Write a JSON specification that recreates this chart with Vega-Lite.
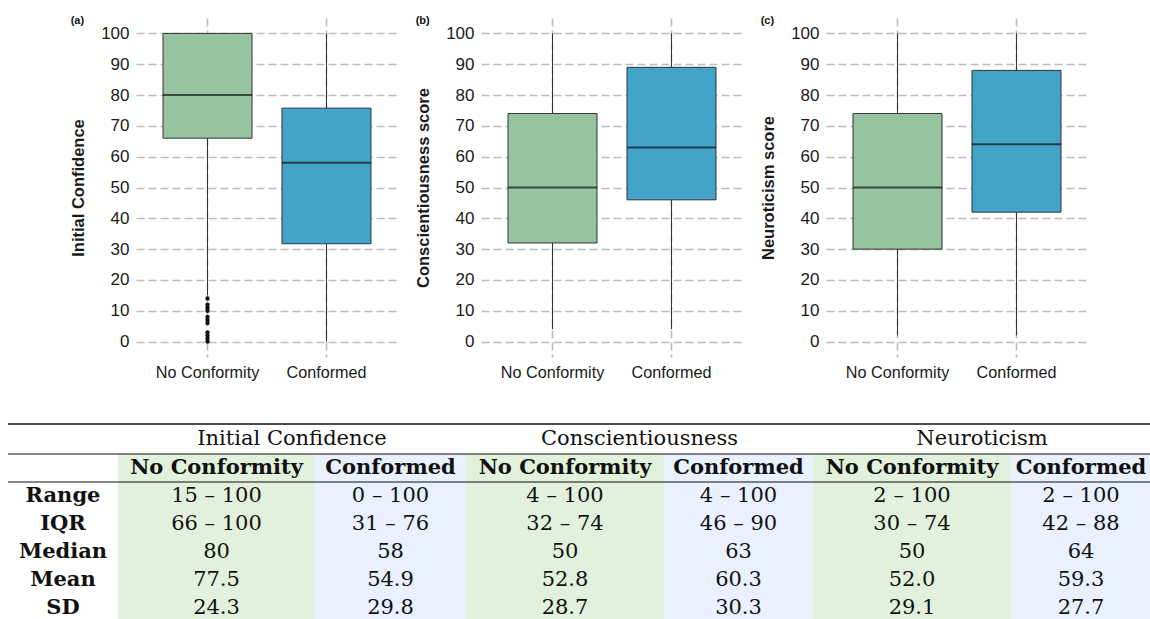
{
  "$schema": "https://vega.github.io/schema/vega-lite/v6.json",
  "background": "white",
  "padding": {"left": 7, "right": 0, "top": 15, "bottom": 0},
  "datasets": {
    "boxes": [
      {"panel": "a", "group": "No Conformity", "lower": 15, "q1": 66, "median": 80, "q3": 100, "upper": 100},
      {"panel": "a", "group": "Conformed", "lower": 0, "q1": 31.75, "median": 58, "q3": 75.75, "upper": 100},
      {"panel": "b", "group": "No Conformity", "lower": 4, "q1": 32, "median": 50, "q3": 74, "upper": 100},
      {"panel": "b", "group": "Conformed", "lower": 4, "q1": 46, "median": 63, "q3": 89, "upper": 100},
      {"panel": "c", "group": "No Conformity", "lower": 2, "q1": 30, "median": 50, "q3": 74, "upper": 100},
      {"panel": "c", "group": "Conformed", "lower": 2, "q1": 42, "median": 64, "q3": 88, "upper": 100}
    ],
    "outliers": [
      {"panel": "a", "group": "No Conformity", "value": 0},
      {"panel": "a", "group": "No Conformity", "value": 1},
      {"panel": "a", "group": "No Conformity", "value": 2},
      {"panel": "a", "group": "No Conformity", "value": 3},
      {"panel": "a", "group": "No Conformity", "value": 6},
      {"panel": "a", "group": "No Conformity", "value": 7},
      {"panel": "a", "group": "No Conformity", "value": 8},
      {"panel": "a", "group": "No Conformity", "value": 10},
      {"panel": "a", "group": "No Conformity", "value": 11},
      {"panel": "a", "group": "No Conformity", "value": 12},
      {"panel": "a", "group": "No Conformity", "value": 14}
    ],
    "headers": [
      {"measure": "Initial Confidence"},
      {"measure": "Conscientiousness"},
      {"measure": "Neuroticism"}
    ],
    "stats": [
      {"stat": "Range"}, {"stat": "IQR"}, {"stat": "Median"}, {"stat": "Mean"}, {"stat": "SD"}
    ],
    "table": [
      {"measure": "Initial Confidence", "group": "No Conformity", "stat": "sub", "text": "No Conformity"},
      {"measure": "Initial Confidence", "group": "No Conformity", "stat": "Range", "text": "15 – 100"},
      {"measure": "Initial Confidence", "group": "No Conformity", "stat": "IQR", "text": "66 – 100"},
      {"measure": "Initial Confidence", "group": "No Conformity", "stat": "Median", "text": "80"},
      {"measure": "Initial Confidence", "group": "No Conformity", "stat": "Mean", "text": "77.5"},
      {"measure": "Initial Confidence", "group": "No Conformity", "stat": "SD", "text": "24.3"},
      {"measure": "Initial Confidence", "group": "Conformed", "stat": "sub", "text": "Conformed"},
      {"measure": "Initial Confidence", "group": "Conformed", "stat": "Range", "text": "0 – 100"},
      {"measure": "Initial Confidence", "group": "Conformed", "stat": "IQR", "text": "31 – 76"},
      {"measure": "Initial Confidence", "group": "Conformed", "stat": "Median", "text": "58"},
      {"measure": "Initial Confidence", "group": "Conformed", "stat": "Mean", "text": "54.9"},
      {"measure": "Initial Confidence", "group": "Conformed", "stat": "SD", "text": "29.8"},
      {"measure": "Conscientiousness", "group": "No Conformity", "stat": "sub", "text": "No Conformity"},
      {"measure": "Conscientiousness", "group": "No Conformity", "stat": "Range", "text": "4 – 100"},
      {"measure": "Conscientiousness", "group": "No Conformity", "stat": "IQR", "text": "32 – 74"},
      {"measure": "Conscientiousness", "group": "No Conformity", "stat": "Median", "text": "50"},
      {"measure": "Conscientiousness", "group": "No Conformity", "stat": "Mean", "text": "52.8"},
      {"measure": "Conscientiousness", "group": "No Conformity", "stat": "SD", "text": "28.7"},
      {"measure": "Conscientiousness", "group": "Conformed", "stat": "sub", "text": "Conformed"},
      {"measure": "Conscientiousness", "group": "Conformed", "stat": "Range", "text": "4 – 100"},
      {"measure": "Conscientiousness", "group": "Conformed", "stat": "IQR", "text": "46 – 90"},
      {"measure": "Conscientiousness", "group": "Conformed", "stat": "Median", "text": "63"},
      {"measure": "Conscientiousness", "group": "Conformed", "stat": "Mean", "text": "60.3"},
      {"measure": "Conscientiousness", "group": "Conformed", "stat": "SD", "text": "30.3"},
      {"measure": "Neuroticism", "group": "No Conformity", "stat": "sub", "text": "No Conformity"},
      {"measure": "Neuroticism", "group": "No Conformity", "stat": "Range", "text": "2 – 100"},
      {"measure": "Neuroticism", "group": "No Conformity", "stat": "IQR", "text": "30 – 74"},
      {"measure": "Neuroticism", "group": "No Conformity", "stat": "Median", "text": "50"},
      {"measure": "Neuroticism", "group": "No Conformity", "stat": "Mean", "text": "52.0"},
      {"measure": "Neuroticism", "group": "No Conformity", "stat": "SD", "text": "29.1"},
      {"measure": "Neuroticism", "group": "Conformed", "stat": "sub", "text": "Conformed"},
      {"measure": "Neuroticism", "group": "Conformed", "stat": "Range", "text": "2 – 100"},
      {"measure": "Neuroticism", "group": "Conformed", "stat": "IQR", "text": "42 – 88"},
      {"measure": "Neuroticism", "group": "Conformed", "stat": "Median", "text": "64"},
      {"measure": "Neuroticism", "group": "Conformed", "stat": "Mean", "text": "59.3"},
      {"measure": "Neuroticism", "group": "Conformed", "stat": "SD", "text": "27.7"}
    ]
  },
  "config": {
    "view": {"stroke": null},
    "axis": {"domain": false, "ticks": false, "labelFont": "Liberation Sans", "titleFont": "Liberation Sans", "labelColor": "#1a1a1a", "titleColor": "#1a1a1a", "gridColor": "#BDBDBD", "gridDash": [8, 4], "gridWidth": 1.6},
    "axisX": {"labelAngle": 0, "labelFontSize": 16.2, "labelPadding": 7, "grid": true},
    "axisY": {"labelFontSize": 17, "labelPadding": 7, "titleFontSize": 16.5, "titleFontWeight": "bold", "titlePadding": 14},
    "title": {"font": "Liberation Sans", "fontSize": 11, "fontWeight": "bold", "anchor": "start", "frame": "bounds", "offset": -8, "color": "#111111"}
  },
  "spacing": 42,
  "vconcat": [
    {
      "hconcat": [
        {
          "width": 45, "height": 339,
          "view": {"fill": "white", "stroke": null},
          "data": {"values": [{}]},
          "mark": {"type": "text", "text": ""},
          "encoding": {}
        },
        {
          "width": 262, "height": 339,
          "title": "(a)",
          "data": {"name": "boxes"},
          "transform": [{"filter": "datum.panel === 'a'"}],
          "encoding": {"x": {"field": "group", "type": "nominal", "title": null, "axis": {"grid": true}, "scale": {"domain": ["No Conformity", "Conformed"], "paddingInner": 0.252, "paddingOuter": 0.227}}},
          "layer": [
            {"mark": {"type": "rule", "color": "#333333", "strokeWidth": 1}, "encoding": {"y": {"field": "lower", "type": "quantitative", "title": "Initial Confidence", "scale": {"domain": [-5, 105], "nice": false, "zero": false}, "axis": {"values": [0, 10, 20, 30, 40, 50, 60, 70, 80, 90, 100]}}, "y2": {"field": "upper"}}},
            {"mark": {"type": "bar", "stroke": "#333333", "strokeWidth": 1}, "encoding": {"y": {"field": "q1", "type": "quantitative", "title": "Initial Confidence", "scale": {"domain": [-5, 105], "nice": false, "zero": false}, "axis": {"values": [0, 10, 20, 30, 40, 50, 60, 70, 80, 90, 100]}}, "y2": {"field": "q3"}, "fill": {"field": "group", "type": "nominal", "scale": {"domain": ["No Conformity", "Conformed"], "range": ["#97C4A0", "#43A4C9"]}, "legend": null}}},
            {"mark": {"type": "tick", "color": "#111111", "thickness": 2, "size": 89}, "encoding": {"y": {"field": "median", "type": "quantitative", "title": "Initial Confidence", "scale": {"domain": [-5, 105], "nice": false, "zero": false}, "axis": {"values": [0, 10, 20, 30, 40, 50, 60, 70, 80, 90, 100]}}}},
            {"data": {"name": "outliers"}, "transform": [{"filter": "datum.panel === 'a'"}], "mark": {"type": "point", "filled": true, "color": "#111111", "opacity": 1, "size": 19}, "encoding": {"y": {"field": "value", "type": "quantitative", "title": "Initial Confidence", "scale": {"domain": [-5, 105], "nice": false, "zero": false}, "axis": {"values": [0, 10, 20, 30, 40, 50, 60, 70, 80, 90, 100]}}}}
          ]
        },
        {
          "width": 262, "height": 339,
          "title": "(b)",
          "data": {"name": "boxes"},
          "transform": [{"filter": "datum.panel === 'b'"}],
          "encoding": {"x": {"field": "group", "type": "nominal", "title": null, "axis": {"grid": true}, "scale": {"domain": ["No Conformity", "Conformed"], "paddingInner": 0.252, "paddingOuter": 0.227}}},
          "layer": [
            {"mark": {"type": "rule", "color": "#333333", "strokeWidth": 1}, "encoding": {"y": {"field": "lower", "type": "quantitative", "title": "Conscientiousness score", "scale": {"domain": [-5, 105], "nice": false, "zero": false}, "axis": {"values": [0, 10, 20, 30, 40, 50, 60, 70, 80, 90, 100]}}, "y2": {"field": "upper"}}},
            {"mark": {"type": "bar", "stroke": "#333333", "strokeWidth": 1}, "encoding": {"y": {"field": "q1", "type": "quantitative", "title": "Conscientiousness score", "scale": {"domain": [-5, 105], "nice": false, "zero": false}, "axis": {"values": [0, 10, 20, 30, 40, 50, 60, 70, 80, 90, 100]}}, "y2": {"field": "q3"}, "fill": {"field": "group", "type": "nominal", "scale": {"domain": ["No Conformity", "Conformed"], "range": ["#97C4A0", "#43A4C9"]}, "legend": null}}},
            {"mark": {"type": "tick", "color": "#111111", "thickness": 2, "size": 89}, "encoding": {"y": {"field": "median", "type": "quantitative", "title": "Conscientiousness score", "scale": {"domain": [-5, 105], "nice": false, "zero": false}, "axis": {"values": [0, 10, 20, 30, 40, 50, 60, 70, 80, 90, 100]}}}}
          ]
        },
        {
          "width": 262, "height": 339,
          "title": "(c)",
          "data": {"name": "boxes"},
          "transform": [{"filter": "datum.panel === 'c'"}],
          "encoding": {"x": {"field": "group", "type": "nominal", "title": null, "axis": {"grid": true}, "scale": {"domain": ["No Conformity", "Conformed"], "paddingInner": 0.252, "paddingOuter": 0.227}}},
          "layer": [
            {"mark": {"type": "rule", "color": "#333333", "strokeWidth": 1}, "encoding": {"y": {"field": "lower", "type": "quantitative", "title": "Neuroticism score", "scale": {"domain": [-5, 105], "nice": false, "zero": false}, "axis": {"values": [0, 10, 20, 30, 40, 50, 60, 70, 80, 90, 100]}}, "y2": {"field": "upper"}}},
            {"mark": {"type": "bar", "stroke": "#333333", "strokeWidth": 1}, "encoding": {"y": {"field": "q1", "type": "quantitative", "title": "Neuroticism score", "scale": {"domain": [-5, 105], "nice": false, "zero": false}, "axis": {"values": [0, 10, 20, 30, 40, 50, 60, 70, 80, 90, 100]}}, "y2": {"field": "q3"}, "fill": {"field": "group", "type": "nominal", "scale": {"domain": ["No Conformity", "Conformed"], "range": ["#97C4A0", "#43A4C9"]}, "legend": null}}},
            {"mark": {"type": "tick", "color": "#111111", "thickness": 2, "size": 89}, "encoding": {"y": {"field": "median", "type": "quantitative", "title": "Neuroticism score", "scale": {"domain": [-5, 105], "nice": false, "zero": false}, "axis": {"values": [0, 10, 20, 30, 40, 50, 60, 70, 80, 90, 100]}}}}
          ]
        }
      ],
      "spacing": 83,
      "bounds": "flush"
    },
    {
      "spacing": 0,
      "vconcat": [
        {
          "spacing": 0,
          "bounds": "flush",
          "hconcat": [
            {
              "width": 110, "height": 29,
              "data": {"values": [{}]},
              "mark": {"type": "rule", "strokeWidth": 1.6, "color": "#111111"},
              "encoding": {"y": {"datum": 1, "type": "quantitative", "scale": {"domain": [0, 1]}, "axis": null}}
            },
            {
              "width": 348, "height": 29,
              "data": {"name": "headers"},
              "transform": [{"filter": "datum.measure === 'Initial Confidence'"}],
              "layer": [
                {"mark": {"type": "text", "font": "DejaVu Serif", "fontSize": 21, "color": "#111111"}, "encoding": {"text": {"field": "measure"}}},
                {"mark": {"type": "rule", "strokeWidth": 1.6, "color": "#111111"}, "encoding": {"y": {"datum": 1, "type": "quantitative", "scale": {"domain": [0, 1]}, "axis": null}}}
              ]
            },
            {
              "width": 347, "height": 29,
              "data": {"name": "headers"},
              "transform": [{"filter": "datum.measure === 'Conscientiousness'"}],
              "layer": [
                {"mark": {"type": "text", "font": "DejaVu Serif", "fontSize": 21, "color": "#111111"}, "encoding": {"text": {"field": "measure"}}},
                {"mark": {"type": "rule", "strokeWidth": 1.6, "color": "#111111"}, "encoding": {"y": {"datum": 1, "type": "quantitative", "scale": {"domain": [0, 1]}, "axis": null}}}
              ]
            },
            {
              "width": 338, "height": 29,
              "data": {"name": "headers"},
              "transform": [{"filter": "datum.measure === 'Neuroticism'"}],
              "layer": [
                {"mark": {"type": "text", "font": "DejaVu Serif", "fontSize": 21, "color": "#111111"}, "encoding": {"text": {"field": "measure"}}},
                {"mark": {"type": "rule", "strokeWidth": 1.6, "color": "#111111"}, "encoding": {"y": {"datum": 1, "type": "quantitative", "scale": {"domain": [0, 1]}, "axis": null}}}
              ]
            }
          ]
        },
        {
          "spacing": 0,
          "bounds": "flush",
          "hconcat": [
            {
              "width": 110, "height": 168,
              "data": {"name": "stats"},
              "layer": [
                {"mark": {"type": "text", "font": "DejaVu Serif", "fontSize": 21, "fontWeight": "bold", "color": "#111111"}, "encoding": {"y": {"field": "stat", "type": "nominal", "scale": {"domain": ["sub", "Range", "IQR", "Median", "Mean", "SD"], "paddingInner": 0, "paddingOuter": 0}, "axis": null}, "text": {"field": "stat"}}},
                {"data": {"values": [{}]}, "mark": {"type": "rule", "strokeWidth": 1.2, "color": "#111111"}, "encoding": {"y": {"datum": "sub", "type": "nominal", "bandPosition": 0}}},
                {"data": {"values": [{}]}, "mark": {"type": "rule", "strokeWidth": 1.2, "color": "#111111"}, "encoding": {"y": {"datum": "Range", "type": "nominal", "bandPosition": 0}}}
              ]
            },
            {
              "width": 197, "height": 168,
              "data": {"name": "table"},
              "transform": [{"filter": "datum.measure === 'Initial Confidence' && datum.group === 'No Conformity'"}],
              "layer": [
                {"mark": {"type": "rect"}, "encoding": {"y": {"field": "stat", "type": "nominal", "scale": {"domain": ["sub", "Range", "IQR", "Median", "Mean", "SD"], "paddingInner": 0, "paddingOuter": 0}, "axis": null}, "x": {"datum": 0, "type": "quantitative", "scale": {"domain": [0, 1]}, "axis": null}, "x2": {"datum": 1}, "color": {"field": "group", "type": "nominal", "scale": {"domain": ["No Conformity", "Conformed"], "range": ["#E1F1DC", "#E8F1FD"]}, "legend": null}}},
                {"transform": [{"filter": "datum.stat === 'sub'"}], "mark": {"type": "text", "font": "DejaVu Serif", "fontSize": 21, "fontWeight": "bold", "color": "#111111"}, "encoding": {"y": {"field": "stat", "type": "nominal"}, "text": {"field": "text"}}},
                {"transform": [{"filter": "datum.stat !== 'sub'"}], "mark": {"type": "text", "font": "DejaVu Serif", "fontSize": 21, "color": "#111111"}, "encoding": {"y": {"field": "stat", "type": "nominal"}, "text": {"field": "text"}}},
                {"data": {"values": [{}]}, "mark": {"type": "rule", "strokeWidth": 1.2, "color": "#111111"}, "encoding": {"y": {"datum": "sub", "type": "nominal", "bandPosition": 0}}},
                {"data": {"values": [{}]}, "mark": {"type": "rule", "strokeWidth": 1.2, "color": "#111111"}, "encoding": {"y": {"datum": "Range", "type": "nominal", "bandPosition": 0}}}
              ]
            },
            {
              "width": 151, "height": 168,
              "data": {"name": "table"},
              "transform": [{"filter": "datum.measure === 'Initial Confidence' && datum.group === 'Conformed'"}],
              "layer": [
                {"mark": {"type": "rect"}, "encoding": {"y": {"field": "stat", "type": "nominal", "scale": {"domain": ["sub", "Range", "IQR", "Median", "Mean", "SD"], "paddingInner": 0, "paddingOuter": 0}, "axis": null}, "x": {"datum": 0, "type": "quantitative", "scale": {"domain": [0, 1]}, "axis": null}, "x2": {"datum": 1}, "color": {"field": "group", "type": "nominal", "scale": {"domain": ["No Conformity", "Conformed"], "range": ["#E1F1DC", "#E8F1FD"]}, "legend": null}}},
                {"transform": [{"filter": "datum.stat === 'sub'"}], "mark": {"type": "text", "font": "DejaVu Serif", "fontSize": 21, "fontWeight": "bold", "color": "#111111"}, "encoding": {"y": {"field": "stat", "type": "nominal"}, "text": {"field": "text"}}},
                {"transform": [{"filter": "datum.stat !== 'sub'"}], "mark": {"type": "text", "font": "DejaVu Serif", "fontSize": 21, "color": "#111111"}, "encoding": {"y": {"field": "stat", "type": "nominal"}, "text": {"field": "text"}}},
                {"data": {"values": [{}]}, "mark": {"type": "rule", "strokeWidth": 1.2, "color": "#111111"}, "encoding": {"y": {"datum": "sub", "type": "nominal", "bandPosition": 0}}},
                {"data": {"values": [{}]}, "mark": {"type": "rule", "strokeWidth": 1.2, "color": "#111111"}, "encoding": {"y": {"datum": "Range", "type": "nominal", "bandPosition": 0}}}
              ]
            },
            {
              "width": 198, "height": 168,
              "data": {"name": "table"},
              "transform": [{"filter": "datum.measure === 'Conscientiousness' && datum.group === 'No Conformity'"}],
              "layer": [
                {"mark": {"type": "rect"}, "encoding": {"y": {"field": "stat", "type": "nominal", "scale": {"domain": ["sub", "Range", "IQR", "Median", "Mean", "SD"], "paddingInner": 0, "paddingOuter": 0}, "axis": null}, "x": {"datum": 0, "type": "quantitative", "scale": {"domain": [0, 1]}, "axis": null}, "x2": {"datum": 1}, "color": {"field": "group", "type": "nominal", "scale": {"domain": ["No Conformity", "Conformed"], "range": ["#E1F1DC", "#E8F1FD"]}, "legend": null}}},
                {"transform": [{"filter": "datum.stat === 'sub'"}], "mark": {"type": "text", "font": "DejaVu Serif", "fontSize": 21, "fontWeight": "bold", "color": "#111111"}, "encoding": {"y": {"field": "stat", "type": "nominal"}, "text": {"field": "text"}}},
                {"transform": [{"filter": "datum.stat !== 'sub'"}], "mark": {"type": "text", "font": "DejaVu Serif", "fontSize": 21, "color": "#111111"}, "encoding": {"y": {"field": "stat", "type": "nominal"}, "text": {"field": "text"}}},
                {"data": {"values": [{}]}, "mark": {"type": "rule", "strokeWidth": 1.2, "color": "#111111"}, "encoding": {"y": {"datum": "sub", "type": "nominal", "bandPosition": 0}}},
                {"data": {"values": [{}]}, "mark": {"type": "rule", "strokeWidth": 1.2, "color": "#111111"}, "encoding": {"y": {"datum": "Range", "type": "nominal", "bandPosition": 0}}}
              ]
            },
            {
              "width": 149, "height": 168,
              "data": {"name": "table"},
              "transform": [{"filter": "datum.measure === 'Conscientiousness' && datum.group === 'Conformed'"}],
              "layer": [
                {"mark": {"type": "rect"}, "encoding": {"y": {"field": "stat", "type": "nominal", "scale": {"domain": ["sub", "Range", "IQR", "Median", "Mean", "SD"], "paddingInner": 0, "paddingOuter": 0}, "axis": null}, "x": {"datum": 0, "type": "quantitative", "scale": {"domain": [0, 1]}, "axis": null}, "x2": {"datum": 1}, "color": {"field": "group", "type": "nominal", "scale": {"domain": ["No Conformity", "Conformed"], "range": ["#E1F1DC", "#E8F1FD"]}, "legend": null}}},
                {"transform": [{"filter": "datum.stat === 'sub'"}], "mark": {"type": "text", "font": "DejaVu Serif", "fontSize": 21, "fontWeight": "bold", "color": "#111111"}, "encoding": {"y": {"field": "stat", "type": "nominal"}, "text": {"field": "text"}}},
                {"transform": [{"filter": "datum.stat !== 'sub'"}], "mark": {"type": "text", "font": "DejaVu Serif", "fontSize": 21, "color": "#111111"}, "encoding": {"y": {"field": "stat", "type": "nominal"}, "text": {"field": "text"}}},
                {"data": {"values": [{}]}, "mark": {"type": "rule", "strokeWidth": 1.2, "color": "#111111"}, "encoding": {"y": {"datum": "sub", "type": "nominal", "bandPosition": 0}}},
                {"data": {"values": [{}]}, "mark": {"type": "rule", "strokeWidth": 1.2, "color": "#111111"}, "encoding": {"y": {"datum": "Range", "type": "nominal", "bandPosition": 0}}}
              ]
            },
            {
              "width": 198, "height": 168,
              "data": {"name": "table"},
              "transform": [{"filter": "datum.measure === 'Neuroticism' && datum.group === 'No Conformity'"}],
              "layer": [
                {"mark": {"type": "rect"}, "encoding": {"y": {"field": "stat", "type": "nominal", "scale": {"domain": ["sub", "Range", "IQR", "Median", "Mean", "SD"], "paddingInner": 0, "paddingOuter": 0}, "axis": null}, "x": {"datum": 0, "type": "quantitative", "scale": {"domain": [0, 1]}, "axis": null}, "x2": {"datum": 1}, "color": {"field": "group", "type": "nominal", "scale": {"domain": ["No Conformity", "Conformed"], "range": ["#E1F1DC", "#E8F1FD"]}, "legend": null}}},
                {"transform": [{"filter": "datum.stat === 'sub'"}], "mark": {"type": "text", "font": "DejaVu Serif", "fontSize": 21, "fontWeight": "bold", "color": "#111111"}, "encoding": {"y": {"field": "stat", "type": "nominal"}, "text": {"field": "text"}}},
                {"transform": [{"filter": "datum.stat !== 'sub'"}], "mark": {"type": "text", "font": "DejaVu Serif", "fontSize": 21, "color": "#111111"}, "encoding": {"y": {"field": "stat", "type": "nominal"}, "text": {"field": "text"}}},
                {"data": {"values": [{}]}, "mark": {"type": "rule", "strokeWidth": 1.2, "color": "#111111"}, "encoding": {"y": {"datum": "sub", "type": "nominal", "bandPosition": 0}}},
                {"data": {"values": [{}]}, "mark": {"type": "rule", "strokeWidth": 1.2, "color": "#111111"}, "encoding": {"y": {"datum": "Range", "type": "nominal", "bandPosition": 0}}}
              ]
            },
            {
              "width": 140, "height": 168,
              "data": {"name": "table"},
              "transform": [{"filter": "datum.measure === 'Neuroticism' && datum.group === 'Conformed'"}],
              "layer": [
                {"mark": {"type": "rect"}, "encoding": {"y": {"field": "stat", "type": "nominal", "scale": {"domain": ["sub", "Range", "IQR", "Median", "Mean", "SD"], "paddingInner": 0, "paddingOuter": 0}, "axis": null}, "x": {"datum": 0, "type": "quantitative", "scale": {"domain": [0, 1]}, "axis": null}, "x2": {"datum": 1}, "color": {"field": "group", "type": "nominal", "scale": {"domain": ["No Conformity", "Conformed"], "range": ["#E1F1DC", "#E8F1FD"]}, "legend": null}}},
                {"transform": [{"filter": "datum.stat === 'sub'"}], "mark": {"type": "text", "font": "DejaVu Serif", "fontSize": 21, "fontWeight": "bold", "color": "#111111"}, "encoding": {"y": {"field": "stat", "type": "nominal"}, "text": {"field": "text"}}},
                {"transform": [{"filter": "datum.stat !== 'sub'"}], "mark": {"type": "text", "font": "DejaVu Serif", "fontSize": 21, "color": "#111111"}, "encoding": {"y": {"field": "stat", "type": "nominal"}, "text": {"field": "text"}}},
                {"data": {"values": [{}]}, "mark": {"type": "rule", "strokeWidth": 1.2, "color": "#111111"}, "encoding": {"y": {"datum": "sub", "type": "nominal", "bandPosition": 0}}},
                {"data": {"values": [{}]}, "mark": {"type": "rule", "strokeWidth": 1.2, "color": "#111111"}, "encoding": {"y": {"datum": "Range", "type": "nominal", "bandPosition": 0}}}
              ]
            }
          ]
        }
      ]
    }
  ]
}
